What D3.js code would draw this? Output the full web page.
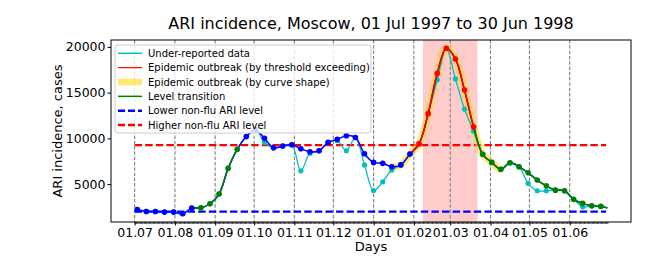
<!DOCTYPE html>
<html>
<head>
<meta charset="utf-8">
<script src="https://cdn.jsdelivr.net/npm/d3@7"></script>
<style>
    body { margin: 0; background: #fff; }
    svg { display: block; font-family: "DejaVu Sans", sans-serif; }
</style>
</head>
<body>
<div id="chart"></div>
<script>
// weekly ARI counts, first week 03 Jul 1997
const firstWeek = "1997-07-03";
const rawCases = [2230, 2010, 2010, 1940, 1940, 1760, 2370, 2410, 2850, 3910,
    6720, 8800, 10200, 10950, 9550, 8970, 9160, 9300, 6450, 8360,
    8640, 9560, 9750, 8640, 10090, 7100, 4290, 5250, 6530, 7100,
    8280, 9400, 12700, 16400, 19850, 16500, 13200, 10800, 8250, 7370,
    6610, 7330, 6890, 5080, 4270, 4270, 4340, 4270, 3330, 2520,
    2600, 2560];
const fixedCases = [2230, 2010, 2010, 1940, 1940, 1760, 2370, 2410, 2850, 3910,
    6720, 8800, 10200, 10950, 10000, 8970, 9160, 9300, 8870, 8530,
    8640, 9560, 9890, 10290, 10090, 8320, 7370, 7270, 6890, 7100,
    8280, 9400, 12700, 17100, 19850, 18680, 15280, 11270, 8250, 7370,
    6610, 7330, 6890, 6240, 5440, 4810, 4340, 4270, 3330, 2890,
    2630, 2560];
// b = non-flu level, g = level transition, r = epidemic (threshold)
const weekKind = ["b", "b", "b", "b", "b", "b", "b", "g", "g", "g",
    "g", "g", "b", "b", "b", "b", "b", "b", "b", "b",
    "b", "b", "b", "b", "b", "b", "b", "b", "b", "b",
    "b", "r", "r", "r", "r", "r", "r", "r", "g", "g",
    "g", "g", "g", "g", "g", "g", "g", "g", "g", "g",
    "g", "g"];
const tailDate = "1998-06-30";
const tailCases = 2400;

const seasonStart = "1997-07-01";
const seasonEnd = "1998-06-30";
const lowerLevel = 2000;
const higherLevel = 9250;
const epidemicByThreshold = ["1998-02-08", "1998-03-22"];
const epidemicByShape = ["1998-01-14", "1998-04-09"];
const yTicks = [5000, 10000, 15000, 20000];

const legendItems = [
    {label: "Under-reported data", type: "line", color: "#00bfbf", w: 1.5},
    {label: "Epidemic outbreak (by threshold exceeding)", type: "line", color: "#ff0000", w: 1.2},
    {label: "Epidemic outbreak (by curve shape)", type: "band", color: "#ffd700", w: 6.5},
    {label: "Level transition", type: "line", color: "#008000", w: 1.5},
    {label: "Lower non-flu ARI level", type: "dash", color: "#0000ff", w: 2.5},
    {label: "Higher non-flu ARI level", type: "dash", color: "#ff0000", w: 2.5}
];

const W = 671, H = 270;
const margin = {top: 40, right: 40, bottom: 48, left: 111};
const parse = d3.utcParse("%Y-%m-%d");

const week0 = parse(firstWeek);
const weeks = rawCases.map((v, i) => ({
    date: d3.utcDay.offset(week0, 7 * i),
    raw: v,
    fixed: fixedCases[i],
    kind: weekKind[i]
}));
const tail = {date: parse(tailDate), raw: tailCases, fixed: tailCases};
const linePts = weeks.concat([tail]);

const t0 = parse(seasonStart), t1 = parse(seasonEnd);
const xPad = 0.05 * (t1 - t0);
const xScale = d3.scaleUtc()
    .domain([new Date(+t0 - xPad), new Date(+t1 + xPad)])
    .range([margin.left, W - margin.right]);

const allVals = rawCases.concat(fixedCases, [lowerLevel, higherLevel]);
const yMin = d3.min(allVals), yMax = d3.max(allVals);
const yPad = 0.05 * (yMax - yMin);
const yScale = d3.scaleLinear()
    .domain([yMin - yPad, yMax + yPad])
    .range([H - margin.bottom, margin.top]);

const svg = d3.select("#chart").append("svg")
    .attr("width", W)
    .attr("height", H);

const plotTop = margin.top, plotBottom = H - margin.bottom;

// epidemic band
svg.append("rect")
    .attr("x", xScale(parse(epidemicByThreshold[0])))
    .attr("y", plotTop)
    .attr("width", xScale(parse(epidemicByThreshold[1])) - xScale(parse(epidemicByThreshold[0])))
    .attr("height", plotBottom - plotTop)
    .attr("fill", "#ff0000")
    .attr("fill-opacity", 0.2);

// month lines
const months = d3.utcMonth.range(t0, d3.utcDay.offset(t1, 1));
svg.append("g").selectAll("line").data(months).join("line")
    .attr("x1", d => xScale(d)).attr("x2", d => xScale(d))
    .attr("y1", plotTop).attr("y2", plotBottom)
    .attr("stroke", "#808080")
    .attr("stroke-width", 1.1)
    .attr("stroke-dasharray", "3.5,1.8");

// level lines
[[lowerLevel, "#0000ff"], [higherLevel, "#ff0000"]].forEach(([v, c]) => {
    svg.append("line")
        .attr("x1", xScale(t0)).attr("x2", xScale(d3.utcDay.offset(t1, -1)))
        .attr("y1", yScale(v)).attr("y2", yScale(v))
        .attr("stroke", c)
        .attr("stroke-width", 2.2)
        .attr("stroke-dasharray", "7.4,3.2");
});

const lineRaw = d3.line().x(d => xScale(d.date)).y(d => yScale(d.raw)).curve(d3.curveCatmullRom);
const lineFixed = d3.line().x(d => xScale(d.date)).y(d => yScale(d.fixed)).curve(d3.curveCatmullRom);

// clip helpers
let clipId = 0;
function clipX(xa, xb) {
    const id = "clip" + (clipId++);
    svg.append("clipPath").attr("id", id)
        .append("rect")
        .attr("x", xa).attr("y", 0)
        .attr("width", xb - xa).attr("height", H);
    return `url(#${id})`;
}

// curve-shape outbreak (thick yellow)
svg.append("path")
    .attr("d", lineFixed(linePts))
    .attr("fill", "none")
    .attr("stroke", "#ffd700")
    .attr("stroke-opacity", 0.55)
    .attr("stroke-width", 7)
    .attr("clip-path", clipX(xScale(parse(epidemicByShape[0])), xScale(parse(epidemicByShape[1]))));

// raw data
svg.append("path")
    .attr("d", lineRaw(linePts))
    .attr("fill", "none")
    .attr("stroke", "#00bfbf")
    .attr("stroke-width", 1.3);
svg.append("g").selectAll("circle").data(weeks).join("circle")
    .attr("cx", d => xScale(d.date))
    .attr("cy", d => yScale(d.raw))
    .attr("r", 2.6)
    .attr("fill", "#00bfbf");

// corrected data: blue below, coloured runs on top
svg.append("path")
    .attr("d", lineFixed(linePts))
    .attr("fill", "none")
    .attr("stroke", "#0000ff")
    .attr("stroke-width", 1.5);

const kindColor = {b: "#0000ff", g: "#008000", r: "#ff0000"};
const runs = [];
weeks.forEach((d, i) => {
    if (i === 0 || d.kind !== weeks[i - 1].kind) runs.push({kind: d.kind, from: i, to: i});
    else runs[runs.length - 1].to = i;
});
runs.filter(r => r.kind !== "b").forEach(r => {
    const xa = xScale(weeks[Math.max(r.from - 1, 0)].date);
    const xb = r.to === weeks.length - 1 ? xScale(tail.date) + 2 : xScale(weeks[r.to].date);
    svg.append("path")
        .attr("d", lineFixed(linePts))
        .attr("fill", "none")
        .attr("stroke", kindColor[r.kind])
        .attr("stroke-width", 1.5)
        .attr("clip-path", clipX(xa, xb));
});

svg.append("g").selectAll("circle").data(weeks).join("circle")
    .attr("cx", d => xScale(d.date))
    .attr("cy", d => yScale(d.fixed))
    .attr("r", 2.8)
    .attr("fill", d => kindColor[d.kind]);

// axes
const xAxis = d3.axisBottom(xScale)
    .tickValues(months)
    .tickFormat(d3.utcFormat("%d.%m"))
    .tickSize(3.5)
    .tickPadding(3);
svg.append("g")
    .attr("transform", `translate(0,${plotBottom})`)
    .call(xAxis)
    .call(g => g.select(".domain").remove())
    .call(g => g.selectAll("text").attr("font-size", 12.5).attr("font-family", "DejaVu Sans").attr("fill", "#000"));

// daily minor ticks
svg.append("g")
    .attr("transform", `translate(0,${plotBottom})`)
    .call(d3.axisBottom(xScale).tickValues(d3.utcDay.range(t0, d3.utcDay.offset(t1, 1))).tickSize(2).tickFormat(""))
    .call(g => g.select(".domain").remove())
    .call(g => g.selectAll("line").attr("stroke-width", 0.7));

svg.append("g")
    .attr("transform", `translate(${margin.left},0)`)
    .call(d3.axisLeft(yScale).tickValues(yTicks).tickFormat(d3.format("d")).tickSize(3.5).tickPadding(2))
    .call(g => g.select(".domain").remove())
    .call(g => g.selectAll("text").attr("font-size", 12.5).attr("font-family", "DejaVu Sans").attr("fill", "#000"));

// frame
svg.append("rect")
    .attr("x", margin.left).attr("y", plotTop)
    .attr("width", W - margin.right - margin.left)
    .attr("height", plotBottom - plotTop)
    .attr("fill", "none")
    .attr("stroke", "#000")
    .attr("stroke-width", 1);

// legend
const lg = svg.append("g").attr("transform", "translate(115,45)");
lg.append("rect")
    .attr("width", 256).attr("height", 88)
    .attr("rx", 3)
    .attr("fill", "#fff").attr("fill-opacity", 0.8)
    .attr("stroke", "#cccccc").attr("stroke-width", 1);
legendItems.forEach((d, i) => {
    const y = 8.3 + i * 14.35;
    const h = lg.append("line")
        .attr("x1", 3).attr("x2", 27)
        .attr("y1", y).attr("y2", y)
        .attr("stroke", d.color)
        .attr("stroke-width", d.w);
    if (d.type === "band") h.attr("stroke-opacity", 0.55);
    if (d.type === "dash") h.attr("stroke-dasharray", "7,3");
    lg.append("text")
        .attr("x", 33).attr("y", y)
        .attr("dy", "0.36em")
        .attr("font-size", 10)
        .text(d.label);
});

// titles
svg.append("text")
    .attr("x", (margin.left + W - margin.right) / 2)
    .attr("y", 29)
    .attr("text-anchor", "middle")
    .attr("font-size", 16)
    .text("ARI incidence, Moscow, 01 Jul 1997 to 30 Jun 1998");

svg.append("text")
    .attr("x", (margin.left + W - margin.right) / 2)
    .attr("y", 251)
    .attr("text-anchor", "middle")
    .attr("font-size", 13)
    .text("Days");

svg.append("text")
    .attr("transform", `translate(61.5,${(plotTop + plotBottom) / 2}) rotate(-90)`)
    .attr("text-anchor", "middle")
    .attr("font-size", 13)
    .text("ARI incidence, cases");
</script>
</body>
</html>
